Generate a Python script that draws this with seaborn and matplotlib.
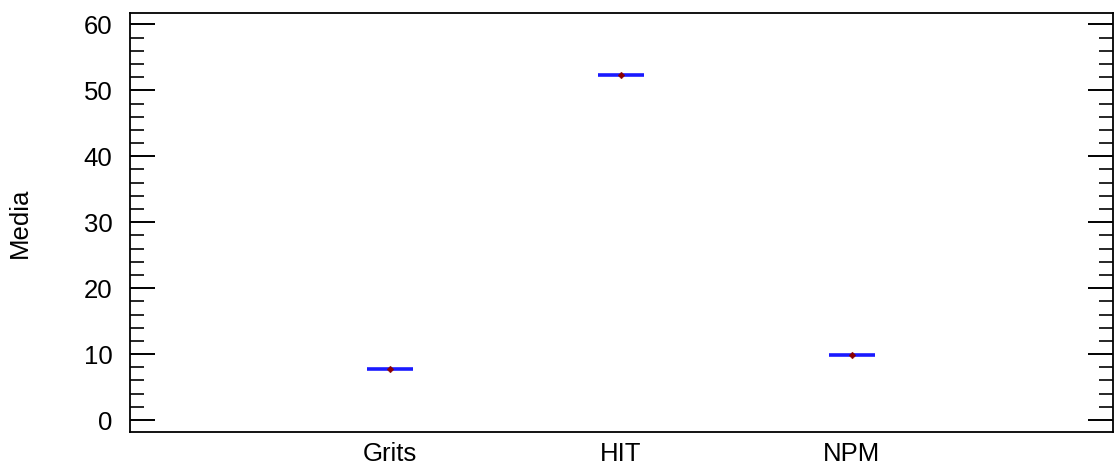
import numpy as np
import pandas as pd
import matplotlib
matplotlib.use("Agg")
import matplotlib.pyplot as plt
import seaborn as sns
from matplotlib.ticker import MultipleLocator

# Data
groups = ["Grits", "HIT", "NPM"]
means = [7.7, 52.4, 9.9]

df = pd.DataFrame({"Grupo": groups, "Media": means})

sns.set_style("white")
plt.rcParams["font.family"] = ["Liberation Sans", "DejaVu Sans"]

fig, ax = plt.subplots(figsize=(11.15, 4.72), dpi=100)
fig.subplots_adjust(left=0.117, right=0.998, top=0.972, bottom=0.085)

xpos = np.arange(len(groups))
# blue mean bars
ax.hlines(df["Media"], xpos - 0.1, xpos + 0.1, color="#1a1aff", lw=2.6, zorder=2)
# dark red markers
sns.scatterplot(data=df, x=xpos, y="Media", ax=ax, marker="D", s=12,
                color="#8b0000", edgecolor="#8b0000", zorder=3, legend=False)

ax.set_xlim(-1.125, 3.13)
ax.set_ylim(-1.8, 61.7)
ax.set_xticks(xpos)
ax.set_xticklabels(groups)
ax.yaxis.set_major_locator(MultipleLocator(10))
ax.yaxis.set_minor_locator(MultipleLocator(2))
ax.tick_params(axis="y", which="major", direction="in", length=18, width=1.4,
               right=True, left=True, labelsize=18.5, pad=13, colors="black")
ax.tick_params(axis="y", which="minor", direction="in", length=10, width=1.4,
               right=True, left=True)
ax.tick_params(axis="x", length=0, labelsize=18.5, pad=7, colors="black")
ax.set_xlabel("")
ax.set_ylabel("Media", fontsize=18.5, labelpad=37, color="black")
for s in ax.spines.values():
    s.set_visible(True)
    s.set_color("black")
    s.set_linewidth(1.3)

fig.savefig("out.png", dpi=100)
